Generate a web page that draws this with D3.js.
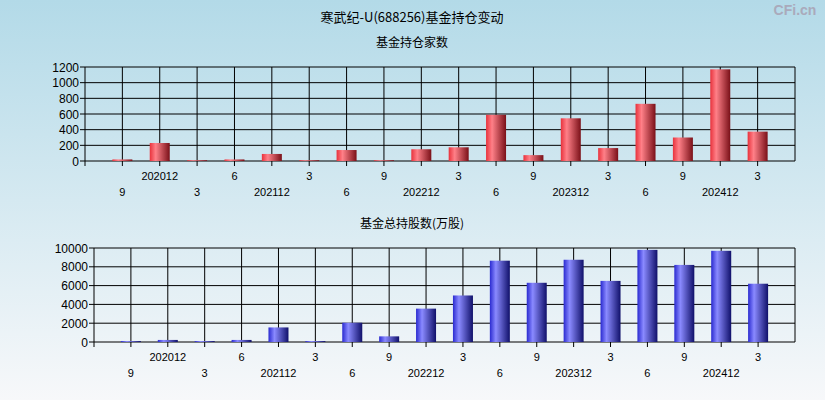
<!DOCTYPE html><html><head><meta charset="utf-8"><script src="https://cdn.jsdelivr.net/npm/d3@7"></script>
<style>body{margin:0}svg{display:block}</style></head><body><svg width="825" height="400"></svg><script>
const categories=["202009","202012","202103","202106","202112","202203","202206","202209","202212","202303","202306","202309","202312","202403","202406","202409","202412","202503"];
const tickLabels=["9","202012","3","6","202112","3","6","9","202212","3","6","9","202312","3","6","9","202412","3"];
const fundCount=[20,230,10,20,90,10,140,10,150,175,590,75,545,165,730,300,1170,375];
const fundShares=[100,220,100,220,1550,100,2050,600,3550,4950,8650,6300,8750,6500,9800,8200,9700,6200];
const countTicks=[0,200,400,600,800,1000,1200];
const shareTicks=[0,2000,4000,6000,8000,10000];
const svg=d3.select("svg");
const defs=svg.append("defs");
const bg=defs.append("linearGradient").attr("id","bg").attr("x1",0).attr("y1",0).attr("x2",0).attr("y2",1);
bg.append("stop").attr("offset",0).attr("stop-color","#b3dae8");
bg.append("stop").attr("offset",1).attr("stop-color","#f7f8fa");
function grad(id,c1,c2,c3){const g=defs.append("linearGradient").attr("id",id);
g.append("stop").attr("offset",0).attr("stop-color",c1);g.append("stop").attr("offset",0.3).attr("stop-color",c2);g.append("stop").attr("offset",1).attr("stop-color",c3);}
grad("red","#e8323c","#ff8088","#7a1018");grad("blue","#2a2ad0","#8a8aff","#10106a");
svg.append("rect").attr("width",825).attr("height",400).attr("fill","url(#bg)");
const font="SimSun, 'Noto Sans CJK SC', sans-serif";
svg.append("text").attr("x",412).attr("y",22).attr("text-anchor","middle").attr("font-size",13).attr("font-family",font).text("寒武纪-U(688256)基金持仓变动");
svg.append("text").attr("x",795).attr("y",15).attr("text-anchor","middle").attr("font-size",14).attr("font-weight","bold").attr("fill","#aab").attr("font-family","Arial").text("CFi.cn");
function panel(title,ty,left,top,bottom,vals,ticks,max,fill,l1,l2){
  svg.append("text").attr("x",412).attr("y",ty).attr("text-anchor","middle").attr("font-size",12).attr("font-family",font).text(title);
  const right=795;
  const x=d3.scaleLinear().domain([-1,18]).range([left,right]);
  const y=d3.scaleLinear().domain([0,max]).range([bottom,top]);
  const g=svg.append("g");
  ticks.forEach(t=>{g.append("line").attr("x1",left-5).attr("x2",right).attr("y1",y(t)).attr("y2",y(t)).attr("stroke","#000");
    g.append("text").attr("x",left-6).attr("y",y(t)+4.5).attr("text-anchor","end").attr("font-size",12).attr("font-family","Arial").text(t);});
  categories.forEach((c,i)=>g.append("line").attr("x1",x(i)).attr("x2",x(i)).attr("y1",top).attr("y2",bottom+5).attr("stroke","#000"));
  g.append("line").attr("x1",left).attr("x2",left).attr("y1",top).attr("y2",bottom+5).attr("stroke","#000");
  g.append("line").attr("x1",right).attr("x2",right).attr("y1",top).attr("y2",bottom).attr("stroke","#000");
  g.selectAll("rect.b").data(vals).join("rect").attr("x",(d,i)=>x(i)-10).attr("width",20).attr("y",d=>y(d)).attr("height",d=>bottom-y(d)).attr("fill",fill);
  tickLabels.forEach((t,i)=>g.append("text").attr("x",x(i)).attr("y",i%2?l1:l2).attr("text-anchor","middle").attr("font-size",11).attr("font-family","Arial").text(t));
}
panel("基金持仓家数",47,85,67,161,fundCount,countTicks,1200,"url(#red)",180,196);
panel("基金总持股数(万股)",228,94,248,342,fundShares,shareTicks,10000,"url(#blue)",361,377);
</script></body></html>
